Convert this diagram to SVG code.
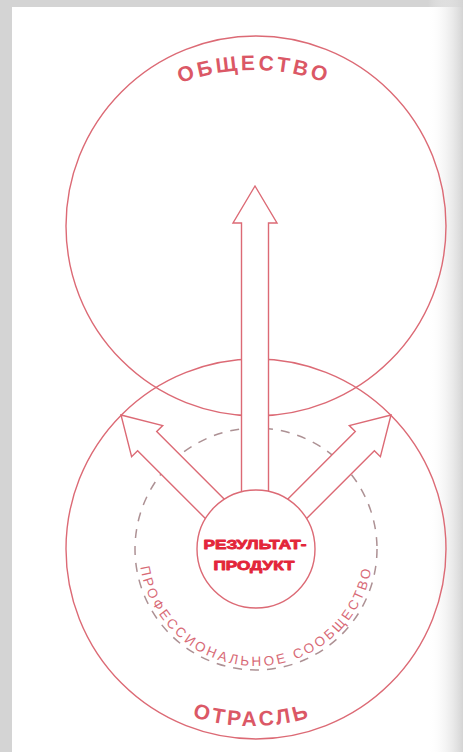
<svg xmlns="http://www.w3.org/2000/svg" width="463" height="752" viewBox="0 0 463 752">
  <defs>
    <linearGradient id="rightFade" x1="0" y1="0" x2="1" y2="0">
      <stop offset="0" stop-color="#ffffff" stop-opacity="0"/>
      <stop offset="1" stop-color="#d4d4d4" stop-opacity="1"/>
    </linearGradient>
    <path id="arcTop" d="M41,283 A213,213 0 0 1 467,283"/>
    <path id="arcBottom" d="M52,526 A200,200 0 0 0 452,526"/>
    <path id="arcDashed" d="M139,549 A117,117 0 0 0 373,549"/>
  </defs>
  <style>
    .ring { fill: none; stroke: #dc6a75; stroke-width: 1.4; }
    .dash { fill: none; stroke: #ad9194; stroke-width: 1.5; stroke-dasharray: 9 8; }
    .arrow { fill: #ffffff; stroke: #dc6a75; stroke-width: 1.4; stroke-linejoin: miter; }
    .core { fill: #ffffff; stroke: #dc6a75; stroke-width: 1.4; }
    .big { font-family: "Liberation Sans", Arial, sans-serif; font-size: 21px; font-weight: bold; fill: #db5866; }
    .ring-label { font-family: "Liberation Sans", Arial, sans-serif; font-size: 13.5px; fill: #d86a76; letter-spacing: 2.8px; }
    .core-label { font-family: "Liberation Sans", Arial, sans-serif; font-size: 13.5px; font-weight: bold; fill: #e3263a; stroke: #e3263a; stroke-width: 0.9; stroke-linejoin: round; text-anchor: middle; }
  </style>

  <!-- background -->
  <rect x="0" y="0" width="463" height="752" fill="#d4d4d4"/>
  <rect x="12" y="7" width="451" height="745" fill="#ffffff"/>
  <rect x="428" y="0" width="35" height="752" fill="url(#rightFade)"/>

  <g id="society">
    <circle class="ring" cx="256" cy="226" r="190"/>
    <text class="big" letter-spacing="3.2"><textPath href="#arcTop" startOffset="50%" text-anchor="middle">ОБЩЕСТВО</textPath></text>
  </g>

  <g id="industry">
    <circle class="ring" cx="256" cy="549" r="190"/>
    <text class="big" letter-spacing="3"><textPath href="#arcBottom" startOffset="50%" text-anchor="middle">ОТРАСЛЬ</textPath></text>
  </g>

  <g id="professional-community">
    <circle class="dash" cx="256" cy="549" r="121"/>
    <text class="ring-label"><textPath href="#arcDashed" startOffset="50%" text-anchor="middle">ПРОФЕССИОНАЛЬНОЕ СООБЩЕСТВО</textPath></text>
  </g>

  <g id="connectors">
    <path class="arrow" transform="translate(255,186)" d="M0,0 L22,37 L13.5,37 L13.5,330 L-13.5,330 L-13.5,37 L-22,37 Z"/>
    <path class="arrow" transform="translate(121,415) rotate(-45)" d="M0,0 L22,37 L13.5,37 L13.5,160 L-13.5,160 L-13.5,37 L-22,37 Z"/>
    <path class="arrow" transform="translate(391,415) rotate(45)" d="M0,0 L22,37 L13.5,37 L13.5,160 L-13.5,160 L-13.5,37 L-22,37 Z"/>
  </g>

  <g id="result-product">
    <circle class="core" cx="256" cy="549" r="59"/>
    <text class="core-label" x="255" y="549" textLength="103" lengthAdjust="spacingAndGlyphs">РЕЗУЛЬТАТ-</text>
    <text class="core-label" x="254" y="570" textLength="81" lengthAdjust="spacingAndGlyphs">ПРОДУКТ</text>
  </g>
</svg>
